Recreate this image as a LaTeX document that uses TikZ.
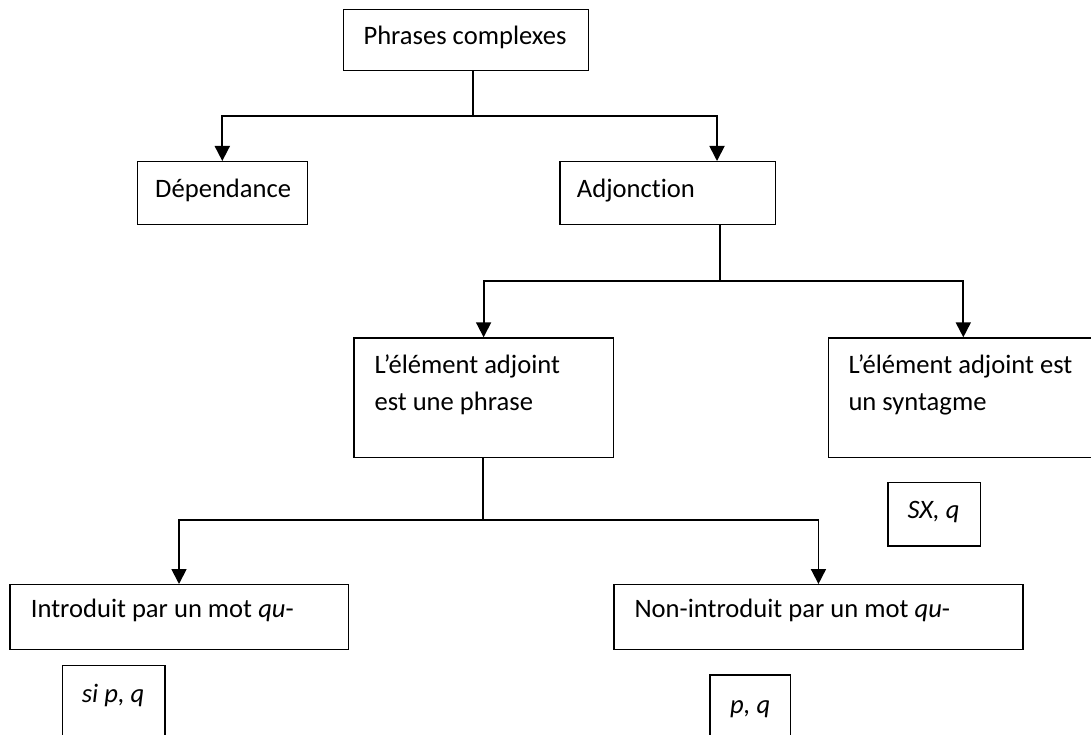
\documentclass[tikz,border=0pt]{standalone}
\usepackage{fontspec}
\setmainfont{Carlito}[Ligatures={TeX,NoCommon}]
\usetikzlibrary{arrows.meta}
\begin{document}
\begin{tikzpicture}[x=1pt,y=-1pt,
  box/.style={draw, line width=1.2pt, inner sep=0pt, anchor=north west},
  txt/.style={inner sep=0pt, anchor=base west, font=\fontsize{26.6}{32}\selectfont},
  link/.style={line width=1.8pt},
  arr/.style={line width=1.8pt, -{Triangle[length=15pt,width=15pt]}}]
\useasboundingbox (0,0) rectangle (1091,735);
\clip (0,0) rectangle (1091,735);
% boxes
\node[box, minimum width=245, minimum height=60.7] (top) at (342.7,9.3) {};
\node[box, minimum width=170, minimum height=63] (dep) at (136.7,161) {};
\node[box, minimum width=215.7, minimum height=63] (adj) at (559.3,161) {};
\node[box, minimum width=259.4, minimum height=119.4] (elph) at (353.3,337.3) {};
\node[box, minimum width=280, minimum height=119.4] (elsy) at (827.7,337.3) {};
\node[box, minimum width=92.7, minimum height=63.3] (sx) at (887.3,482) {};
\node[box, minimum width=338.2, minimum height=65] (intro) at (9.3,584) {};
\node[box, minimum width=409.1, minimum height=65] (nonintro) at (613.3,584) {};
\node[box, minimum width=102.8, minimum height=90] (si) at (61.5,665) {};
\node[box, minimum width=80.7, minimum height=80] (pq) at (709.3,674.3) {};
% texts
\node[txt] (topt) at (363.3,45) {Phrases complexes};
\node[txt] (dept) at (155,197.3) {Dépendance};
\node[txt] (adjt) at (576.7,197.3) {Adjonction};
\node[txt] (elpha) at (374.3,373.3) {L’élément adjoint};
\node[txt] (elphb) at (374.3,410) {est une phrase};
\node[txt] (elsya) at (848.3,373.3) {L’élément adjoint est};
\node[txt] (elsyb) at (848.3,410) {un syntagme};
\node[txt] (sxt) at (907.3,518.3) {\textit{SX, q}};
\node[txt] (introt) at (30.7,617.7) {Introduit par un mot \textit{qu}-};
\node[txt] (nonintrot) at (634.3,617.7) {Non-introduit par un mot \textit{qu}-};
\node[txt] (sit) at (81.7,702) {\textit{si p, q}};
\node[txt] (pqt) at (730,713.3) {\textit{p, q}};
% connectors
\coordinate (j1) at (473.3,116);
\coordinate (j2) at (720,281);
\coordinate (j3) at (483,520);
\draw[link] (top.south -| j1) -- (j1);
\draw[arr] (j1) -| (dep.north);
\draw[arr] (j1) -| (adj.north -| 717,0);
\draw[link] (adj.south -| j2) -- (j2);
\draw[arr] (j2) -| (elph.north);
\draw[arr] (j2) -| (elsy.north -| 963.3,0);
\draw[link] (elph.south -| j3) -- (j3);
\draw[arr] (j3) -| (intro.north);
\draw[arr] (j3) -| (nonintro.north);
\end{tikzpicture}
\end{document}
